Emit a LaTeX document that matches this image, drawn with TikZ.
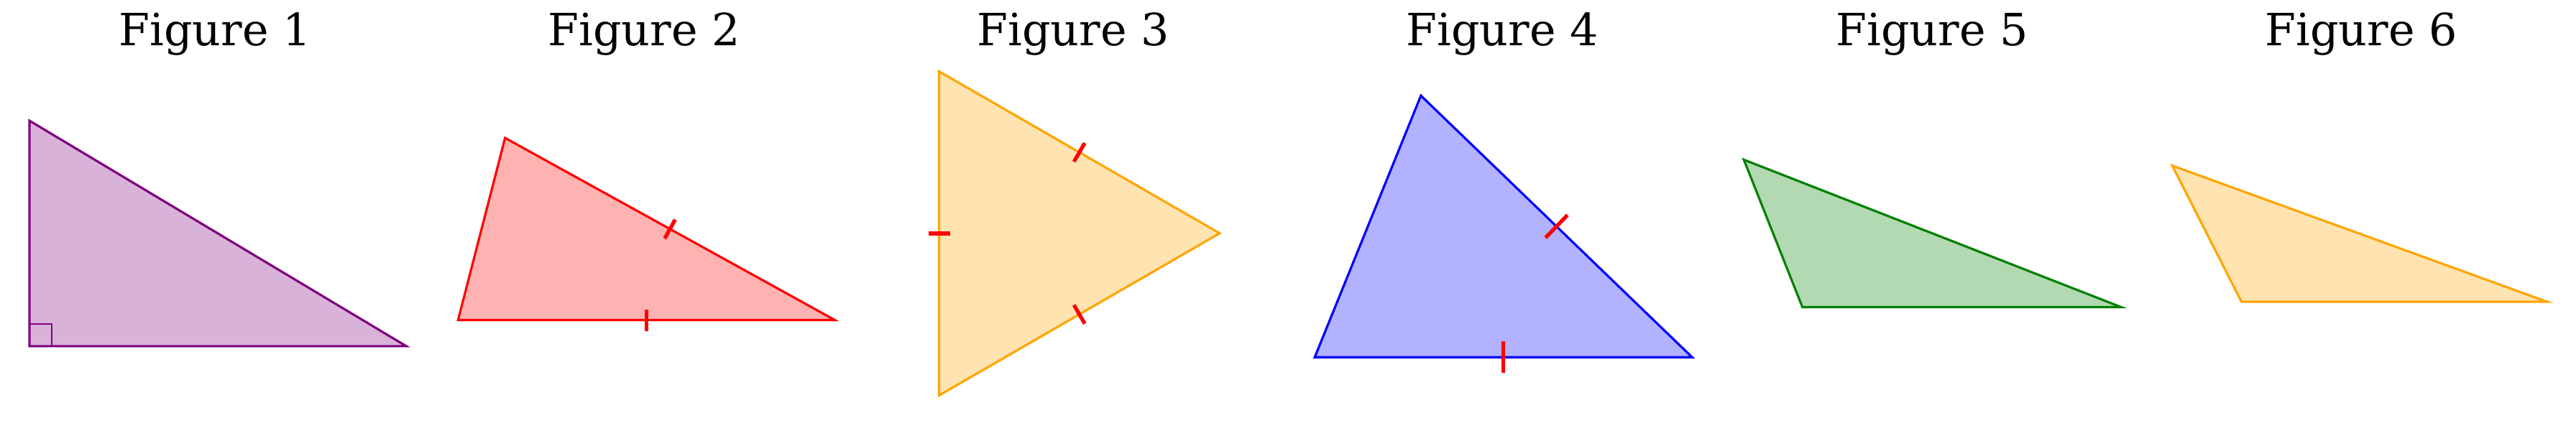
\documentclass[tikz,border=0pt]{standalone}
\usepackage{fontspec}
\setmainfont{DejaVu Serif}
\usetikzlibrary{calc}
\definecolor{mplpurple}{HTML}{800080}
\definecolor{mplgreen}{HTML}{008000}
\definecolor{mplorange}{HTML}{FFA500}
\tikzset{
  title/.style={anchor=base, font=\fontsize{17.6}{20}\selectfont},
  tri/.style={line width=0.9pt, line join=miter},
  tickline/.style={red, line width=1.5pt}
}
\newcommand{\tickmark}[3]{\draw[tickline] ($(#1)!0.5!(#2)!#3!90:(#2)$) -- ($(#1)!0.5!(#2)!#3!-90:(#2)$);}

\begin{document}
\begin{tikzpicture}
  \useasboundingbox (0,0) rectangle (35.84,5.85);

  \node[title] (t1) at (2.99,5.213) {Figure 1};
  \node[title] (t2) at (8.96,5.213) {Figure 2};
  \node[title] (t3) at (14.93,5.213) {Figure 3};
  \node[title] (t4) at (20.90,5.213) {Figure 4};
  \node[title] (t5) at (26.88,5.213) {Figure 5};
  \node[title] (t6) at (32.85,5.213) {Figure 6};

  % figure 1
  \coordinate (a1) at (0.41,4.17);
  \coordinate (b1) at (0.41,1.031);
  \coordinate (c1) at (5.654,1.031);
  \draw[tri, mplpurple, fill=mplpurple!30] (a1) -- (b1) -- (c1) -- cycle;
  \draw[mplpurple, line width=0.5pt] (b1) rectangle ++(0.31,0.31);

  % figure 2
  \coordinate (a2) at (7.027,3.93);
  \coordinate (b2) at (6.373,1.395);
  \coordinate (c2) at (11.615,1.395);
  \draw[tri, red, fill=red!30] (a2) -- (b2) -- (c2) -- cycle;
  \tickmark{b2}{c2}{0.15cm}
  \tickmark{a2}{c2}{0.15cm}

  % figure 3
  \coordinate (a3) at (13.065,4.856);
  \coordinate (b3) at (13.065,0.346);
  \coordinate (c3) at (16.969,2.603);
  \draw[tri, mplorange, fill=mplorange!30] (a3) -- (b3) -- (c3) -- cycle;
  \tickmark{a3}{b3}{0.15cm}
  \tickmark{a3}{c3}{0.15cm}
  \tickmark{b3}{c3}{0.15cm}

  % figure 4
  \coordinate (a4) at (19.769,4.519);
  \coordinate (b4) at (18.292,0.878);
  \coordinate (c4) at (23.542,0.878);
  \draw[tri, blue, fill=blue!30] (a4) -- (b4) -- (c4) -- cycle;
  \tickmark{b4}{c4}{0.22cm}
  \tickmark{a4}{c4}{0.22cm}

  % figure 5
  \coordinate (a5) at (24.262,3.627);
  \coordinate (b5) at (25.077,1.575);
  \coordinate (c5) at (29.512,1.575);
  \draw[tri, mplgreen, fill=mplgreen!30] (a5) -- (b5) -- (c5) -- cycle;

  % figure 6
  \coordinate (a6) at (30.223,3.544);
  \coordinate (b6) at (31.185,1.65);
  \coordinate (c6) at (35.435,1.65);
  \draw[tri, mplorange, fill=mplorange!30] (a6) -- (b6) -- (c6) -- cycle;
\end{tikzpicture}
\end{document}
